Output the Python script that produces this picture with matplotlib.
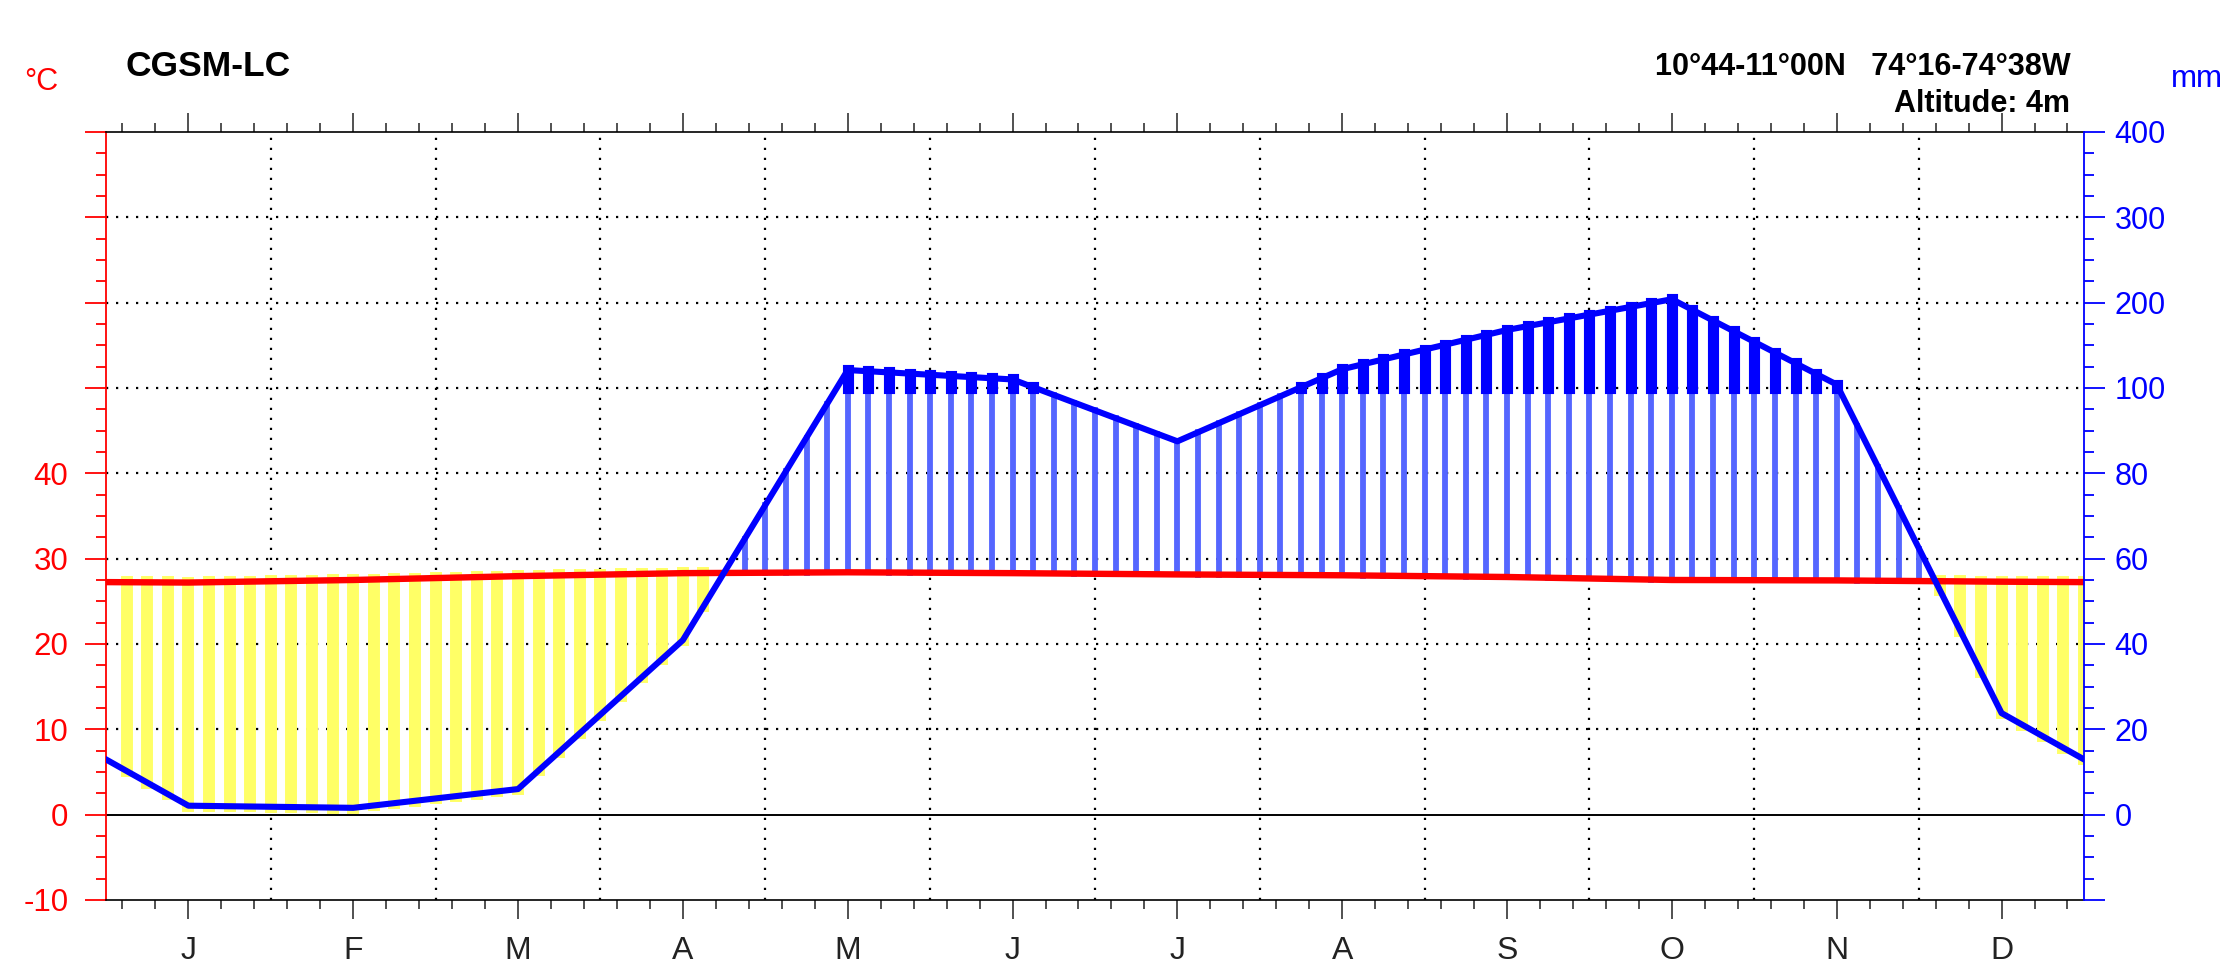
import numpy as np
import matplotlib
matplotlib.use("Agg")
import matplotlib.pyplot as plt
from matplotlib.ticker import FixedLocator, MultipleLocator

plt.rcParams['font.family'] = ['Liberation Sans', 'DejaVu Sans']

# monthly means
months = ['J', 'F', 'M', 'A', 'M', 'J', 'J', 'A', 'S', 'O', 'N', 'D']
temp_c = [27.2, 27.5, 27.95, 28.3, 28.4, 28.3, 28.15, 28.05, 27.85, 27.5, 27.45, 27.3]
precip_mm = [2.1, 1.6, 6.0, 40.9, 121, 110, 87.5, 122, 168, 204, 104, 23.8]

station = "CGSM-LC"
coords = "10°44-11°00N   74°16-74°38W"
altitude = "Altitude: 4m"

temp_ticks = [-10, 0, 10, 20, 30, 40, 50, 60, 70, 80]
temp_labels = ['-10', '0', '10', '20', '30', '40', '', '', '', '']
prec_ticks = [-10, 0, 10, 20, 30, 40, 50, 60, 70, 80]
prec_labels = ['', '0', '20', '40', '60', '80', '100', '200', '300', '400']


def scale_p(p):
    # 20 mm = 10 degC up to 100 mm, then compressed 10x
    p = np.asarray(p, float)
    return np.where(p <= 100, p / 2, 50 + (p - 100) / 10)


# month centres plus wrap-around values at both ends
xm = np.arange(12) + 0.5
x = np.concatenate([[0], xm, [12]])
t_end = (temp_c[0] + temp_c[-1]) / 2
t = np.concatenate([[t_end], temp_c, [t_end]])
p_end = (precip_mm[0] + precip_mm[-1]) / 2
p = scale_p(np.concatenate([[p_end], precip_mm, [p_end]]))

# hatching positions (8 per month)
xh = np.arange(1, 97) / 8
th = np.interp(xh, x, t)
ph = np.interp(xh, x, p)

fig = plt.figure(figsize=(22.26, 9.64), dpi=100)
ax = fig.add_axes([0.0476, 0.0664, 0.8886, 0.7967])
ax.set_xlim(0, 12)
ax.set_ylim(-10, 80)

# grid
dots = (0, (1, 3.5))
for v in range(1, 12):
    ax.axvline(v, color='black', ls=dots, lw=1.6, zorder=1)
for h in range(10, 80, 10):
    ax.axhline(h, color='black', ls=dots, lw=1.6, zorder=1)
ax.axhline(0, color='black', lw=1.4, zorder=2)

# dry period (yellow), humid period (blue), >100 mm (dark blue)
dry = ph < th
wet = ~dry
ax.vlines(xh[dry], ph[dry], th[dry], color='#ffff66', lw=8.6, capstyle='projecting', zorder=3)
ax.vlines(xh[wet], th[wet], np.minimum(ph[wet], 50), color='#5566ff', lw=4.2,
          capstyle='projecting', zorder=3)
vh = ph > 50
ax.vlines(xh[vh], 50, ph[vh], color='#0000ff', lw=8.0, capstyle='projecting', zorder=4)

ax.plot(x, t, color='#ff0000', lw=4.6, zorder=5)
ax.plot(x, p, color='#0000ff', lw=4.4, zorder=6)

# x axis
ax.xaxis.set_major_locator(FixedLocator(xm))
ax.xaxis.set_minor_locator(FixedLocator(np.arange(0.1, 12, 0.2)))
ax.set_xticklabels(months)
ax.tick_params(axis='x', which='both', direction='out', top=True, bottom=True,
               labeltop=False, color='#222222', labelcolor='#222222', width=1.1)
ax.tick_params(axis='x', which='major', length=13.7, labelsize=23, pad=12)
ax.tick_params(axis='x', which='minor', length=6.8)

# left (temperature) axis
ax.yaxis.set_major_locator(FixedLocator(temp_ticks))
ax.set_yticklabels(temp_labels)
ax.yaxis.set_minor_locator(MultipleLocator(2.5))
ax.tick_params(axis='y', which='both', direction='out', color='red', labelcolor='red', width=1.3)
ax.tick_params(axis='y', which='major', length=15, labelsize=22.5, pad=12)
ax.tick_params(axis='y', which='minor', length=7.4)

ax.spines['left'].set_color('red')
ax.spines['left'].set_linewidth(1.3)
ax.spines['right'].set_visible(False)
ax.spines['top'].set_linewidth(1.2)
ax.spines['bottom'].set_linewidth(1.2)

# right (precipitation) axis
ax2 = ax.twinx()
ax2.set_ylim(-10, 80)
ax2.yaxis.set_major_locator(FixedLocator(prec_ticks))
ax2.set_yticklabels(prec_labels)
ax2.yaxis.set_minor_locator(MultipleLocator(2.5))
ax2.tick_params(axis='y', which='both', direction='out', color='blue', labelcolor='blue', width=1.3)
ax2.tick_params(axis='y', which='major', length=15, labelsize=22, pad=7)
ax2.tick_params(axis='y', which='minor', length=7.4)
for s in ['left', 'top', 'bottom']:
    ax2.spines[s].set_visible(False)
ax2.spines['right'].set_color('blue')
ax2.spines['right'].set_linewidth(1.3)

# header texts
fig.text(0.0562, 0.9305, station, fontsize=25.5, fontweight='bold', ha='left', va='center')
fig.text(0.930, 0.9305, coords, fontsize=22, fontweight='bold', ha='right', va='center')
fig.text(0.930, 0.892, altitude, fontsize=22, fontweight='bold', ha='right', va='center')
fig.text(0.0108, 0.915, '°C', fontsize=22, color='red', ha='left', va='center')
fig.text(0.9755, 0.918, 'mm', fontsize=22.5, color='blue', ha='left', va='center')

fig.savefig('out.png', dpi=100)
